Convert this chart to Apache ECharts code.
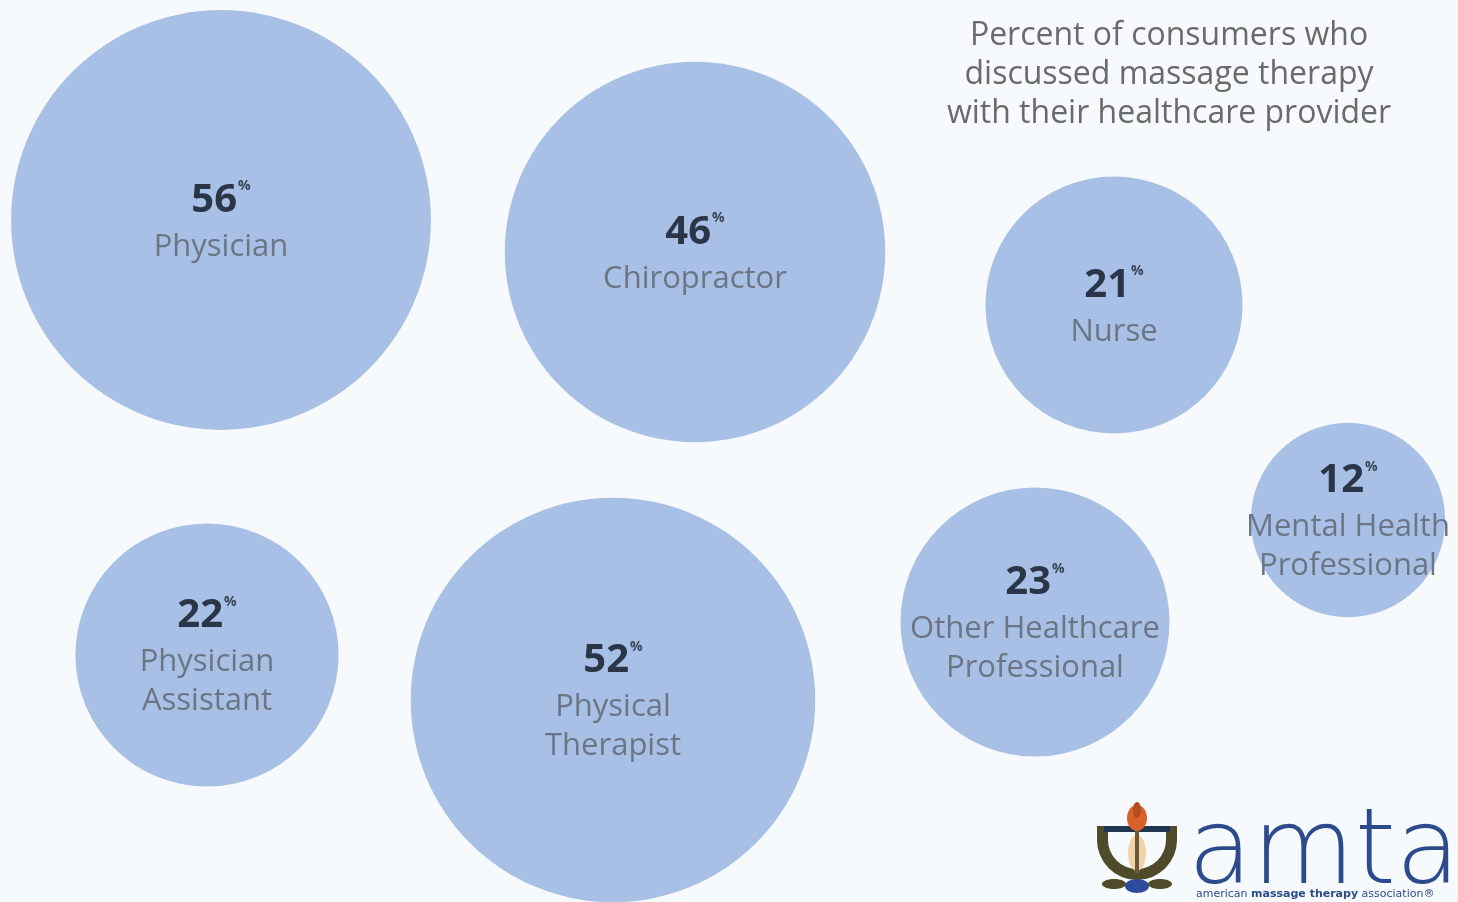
<!DOCTYPE html>
<html>
<head>
<meta charset="utf-8">
<script src="https://cdn.jsdelivr.net/npm/echarts@6/dist/echarts.min.js"></script>
<style>
html,body{margin:0;padding:0;background:#f7fafc;}
#chart{width:1458px;height:902px;}
</style>
</head>
<body>
<div id="chart"></div>
<script>
// Data
const categories = ['Physician', 'Chiropractor', 'Nurse', 'Physician\nAssistant', 'Physical\nTherapist', 'Other Healthcare\nProfessional', 'Mental Health\nProfessional'];
const percents = [56, 46, 21, 22, 52, 23, 12];
// bubble layout (chart layout coordinates)
const layoutX = [221, 695, 1114, 207, 613, 1035, 1348];
const layoutY = [220, 252, 305, 655, 700, 622, 520];
const titleLines = ['Percent of consumers who', 'discussed massage therapy', 'with their healthcare provider'];

const FONT = '"Open Sans", "Noto Sans", sans-serif';
const chart = echarts.init(document.getElementById('chart'));

const seriesData = categories.map((c, i) => ({
  value: [layoutX[i], layoutY[i], percents[i]],
  name: c
}));

chart.setOption({
  backgroundColor: '#f7fafc',
  animation: false,
  title: {
    text: titleLines.join('\n'),
    left: 1164,
    top: 11,
    textAlign: 'center',
    textStyle: {fontFamily: FONT, fontSize: 32, fontWeight: 'normal', color: '#6a6a6a', lineHeight: 39}
  },
  grid: {left: 0, right: 0, top: 0, bottom: 0},
  xAxis: {type: 'value', min: 0, max: 1458, show: false},
  yAxis: {type: 'value', min: 0, max: 902, inverse: true, show: false},
  series: [{
    type: 'scatter',
    clip: false,
    data: seriesData,
    symbol: 'circle',
    symbolSize: v => 56.1 * Math.sqrt(v[2]),
    itemStyle: {color: '#a8c0e5', opacity: 1},
    label: {
      show: true,
      position: 'inside',
      align: 'center',
      verticalAlign: 'middle',
      formatter: p => {
        const lines = p.name.split('\n').map(l => '{n|' + l + '}').join('\n');
        return '{v|' + p.value[2] + '}{p|%}\n' + lines;
      },
      rich: {
        v: {fontFamily: FONT, fontSize: 40, fontWeight: 'bold', color: '#2a3548', lineHeight: 54},
        p: {fontFamily: FONT, fontSize: 14, fontWeight: 'bold', color: '#3a4558', verticalAlign: 'top', lineHeight: 54, padding: [6, 0, 0, 1]},
        n: {fontFamily: FONT, fontSize: 31, color: '#6b7586', lineHeight: 39}
      }
    }
  }],
  graphic: [
    // amta logo
    {type: 'text', left: 1188, top: 803, style: {text: 'amta', font: '200 105px "DejaVu Sans", sans-serif', fill: '#2c4b8c'}},
    {type: 'text', left: 1196, top: 889, style: {
      text: 'american {b|massage therapy} association\u00AE',
      font: '11px "DejaVu Sans", sans-serif', fill: '#2c4b8c',
      rich: {b: {fontFamily: '"DejaVu Sans", sans-serif', fontSize: 11, fontWeight: 'bold', fill: '#2c4b8c', color: '#2c4b8c'}}
    }},
    // emblem
    {type: 'sector', shape: {cx: 1137, cy: 840, r: 40, r0: 29, startAngle: 0, endAngle: Math.PI}, style: {fill: '#4f4a2a'}},
    {type: 'rect', shape: {x: 1097, y: 826, width: 11, height: 16}, style: {fill: '#4f4a2a'}},
    {type: 'rect', shape: {x: 1166, y: 826, width: 11, height: 16}, style: {fill: '#4f4a2a'}},
    {type: 'rect', shape: {x: 1104, y: 826, width: 66, height: 6}, style: {fill: '#1f3550'}},
    {type: 'ellipse', shape: {cx: 1137, cy: 853, rx: 9, ry: 18}, style: {fill: '#f1d3a8'}},
    {type: 'rect', shape: {x: 1135, y: 830, width: 4, height: 44}, style: {fill: '#6a5a3a'}},
    {type: 'ellipse', shape: {cx: 1137, cy: 818, rx: 10, ry: 13}, style: {fill: '#d9602a'}},
    {type: 'ellipse', shape: {cx: 1137, cy: 810, rx: 4, ry: 8}, style: {fill: '#b84a20'}},
    {type: 'ellipse', shape: {cx: 1137, cy: 886, rx: 12, ry: 7}, style: {fill: '#2c4b9c'}},
    {type: 'ellipse', shape: {cx: 1114, cy: 884, rx: 12, ry: 5}, style: {fill: '#4f4a2a'}},
    {type: 'ellipse', shape: {cx: 1160, cy: 884, rx: 12, ry: 5}, style: {fill: '#4f4a2a'}}
  ]
});
</script>
</body>
</html>
